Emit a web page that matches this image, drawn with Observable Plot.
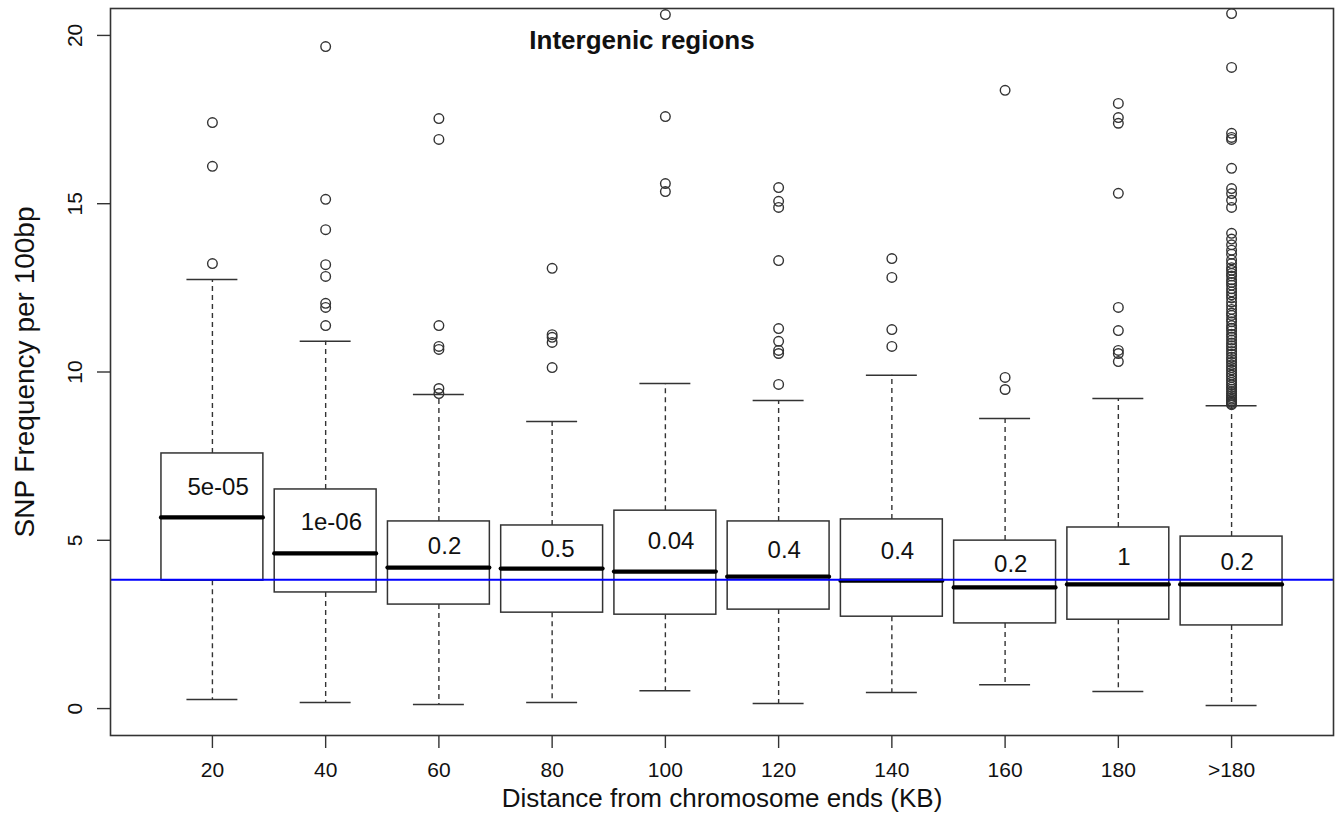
<!DOCTYPE html>
<html>
<head>
<meta charset="utf-8">
<script src="https://cdn.jsdelivr.net/npm/d3@7"></script>
<script src="https://cdn.jsdelivr.net/npm/@observablehq/plot@0.6"></script>
<style>
  html, body { margin: 0; padding: 0; background: #fff; }
  #chart svg { display: block; }
</style>
</head>
<body>
<div id="chart"></div>
<script>
// ---- data ----
const categories = ["20", "40", "60", "80", "100", "120", "140", "160", "180", ">180"];
const q1          = [3.80, 3.45, 3.09, 2.85, 2.79, 2.94, 2.73, 2.53, 2.64, 2.47];
const medians     = [5.68, 4.61, 4.19, 4.16, 4.07, 3.92, 3.80, 3.60, 3.69, 3.69];
const q3          = [7.58, 6.51, 5.56, 5.44, 5.88, 5.56, 5.62, 4.99, 5.38, 5.11];
const whiskerLow  = [0.27, 0.18, 0.12, 0.18, 0.53, 0.15, 0.48, 0.71, 0.51, 0.09];
const whiskerHigh = [12.75, 10.91, 9.33, 8.53, 9.66, 9.15, 9.90, 8.62, 9.21, 9.00];
const outliers = [
  [13.22, 16.11, 17.41],
  [11.38, 11.92, 12.04, 12.84, 13.19, 14.23, 15.13, 19.67],
  [9.36, 9.51, 10.67, 10.76, 11.38, 16.91, 17.53],
  [10.13, 10.88, 11.03, 11.11, 13.08],
  [15.36, 15.60, 17.59, 20.62],
  [9.63, 10.55, 10.64, 10.91, 11.29, 13.31, 14.89, 15.07, 15.48],
  [10.76, 11.26, 12.81, 13.37],
  [9.48, 9.84, 18.37],
  [10.31, 10.55, 10.64, 11.23, 11.92, 15.31, 17.39, 17.56, 17.98],
  [9.03, 9.06, 9.10, 9.14, 9.19, 9.24, 9.30, 9.36, 9.42, 9.49, 9.55, 9.62, 9.69,
   9.76, 9.84, 9.91, 9.98, 10.06, 10.13, 10.21, 10.29, 10.37, 10.44, 10.53, 10.61,
   10.70, 10.78, 10.86, 10.95, 11.04, 11.12, 11.22, 11.30, 11.38, 11.49, 11.57,
   11.68, 11.75, 11.86, 11.97, 12.08, 12.20, 12.29, 12.38, 12.47, 12.58, 12.66,
   12.74, 12.85, 12.93, 13.02, 13.10, 13.22, 13.33, 13.50, 13.62, 13.78, 13.95,
   14.12, 14.89, 15.10, 15.30, 15.45, 16.05, 16.91, 16.97, 17.09, 19.05, 20.65]
];
const pValues  = ["5e-05", "1e-06", "0.2", "0.5", "0.04", "0.4", "0.4", "0.2", "1", "0.2"];
const pValueY  = [6.57, 5.53, 4.81, 4.72, 4.96, 4.70, 4.67, 4.28, 4.49, 4.34];
const referenceLine = 3.83;
const yTicks = [0, 5, 10, 15, 20];
const title = "Intergenic regions";
const xLabel = "Distance from chromosome ends (KB)";
const yLabel = "SNP Frequency per 100bp";

// ---- tables built from the arrays ----
const boxes = categories.map((c, k) => ({
  i: k + 1, label: c, q1: q1[k], median: medians[k], q3: q3[k],
  lo: whiskerLow[k], hi: whiskerHigh[k], p: pValues[k], py: pValueY[k]
}));
const points = outliers.flatMap((vals, k) => vals.map(v => ({i: k + 1, v})));

const half = 0.45, capHalf = 0.225;
const lineColor = "#333";
const textColor = "#111";
const font = "'Liberation Sans', Arial, Helvetica, sans-serif";

const chart = Plot.plot({
  width: 1336,
  height: 818,
  marginLeft: 110,
  marginRight: 3,
  marginTop: 8,
  marginBottom: 83,
  style: {fontFamily: font, background: "#fff", color: textColor},
  x: {type: "linear", domain: [0.1, 10.9]},
  y: {domain: [-0.8, 20.8]},
  marks: [
    // whiskers (dashed)
    Plot.ruleX(boxes, {x: "i", y1: "q3", y2: "hi", stroke: lineColor, strokeWidth: 1.4, strokeDasharray: "5,4"}),
    Plot.ruleX(boxes, {x: "i", y1: "q1", y2: "lo", stroke: lineColor, strokeWidth: 1.4, strokeDasharray: "5,4"}),
    // whisker caps
    Plot.ruleY(boxes, {y: "hi", x1: d => d.i - capHalf, x2: d => d.i + capHalf, stroke: lineColor, strokeWidth: 1.5}),
    Plot.ruleY(boxes, {y: "lo", x1: d => d.i - capHalf, x2: d => d.i + capHalf, stroke: lineColor, strokeWidth: 1.5}),
    // boxes
    Plot.rect(boxes, {x1: d => d.i - half, x2: d => d.i + half, y1: "q1", y2: "q3", fill: "white", stroke: lineColor, strokeWidth: 1.5}),
    // medians
    Plot.ruleY(boxes, {y: "median", x1: d => d.i - half, x2: d => d.i + half, stroke: "#000", strokeWidth: 4.2, strokeLinecap: "round"}),
    // outliers
    Plot.dot(points, {x: "i", y: "v", r: 4.8, stroke: lineColor, strokeWidth: 1.4, fill: "none"}),
    // reference line
    Plot.ruleY([referenceLine], {stroke: "#0000ff", strokeWidth: 2}),
    // p-values
    Plot.text(boxes, {x: d => d.i + 0.05, y: "py", text: "p", fontSize: 24, fill: textColor}),
    // title
    Plot.text([title], {frameAnchor: "top", dx: -80, dy: 32, lineAnchor: "middle", fontSize: 26, fontWeight: "bold", fill: textColor}),
    // y axis ticks + labels
    Plot.axisY({ticks: yTicks, tickSize: 13, tickFormat: () => "", label: null, stroke: lineColor, strokeWidth: 1.4}),
    Plot.text(yTicks, {y: d => d, text: d => String(d), frameAnchor: "left", textAnchor: "middle", lineAnchor: "middle",
                       dx: -35, rotate: -90, fontSize: 21, fill: textColor}),
    // x axis ticks + labels
    Plot.axisX({ticks: d3.range(1, categories.length + 1), tickSize: 13, tickFormat: () => "", label: null,
                stroke: lineColor, strokeWidth: 1.4}),
    Plot.text(boxes, {x: "i", text: "label", frameAnchor: "bottom", textAnchor: "middle", lineAnchor: "middle",
                      dy: 35, fontSize: 21, fill: textColor}),
    // axis titles
    Plot.text([yLabel], {frameAnchor: "left", textAnchor: "middle", lineAnchor: "middle", dx: -85, rotate: -90, fontSize: 28, fill: textColor}),
    Plot.text([xLabel], {frameAnchor: "bottom", textAnchor: "middle", lineAnchor: "middle", dy: 63, fontSize: 26, fill: textColor}),
    Plot.frame({stroke: lineColor, strokeWidth: 1.6})
  ]
});
document.getElementById("chart").appendChild(chart);
</script>
</body>
</html>
